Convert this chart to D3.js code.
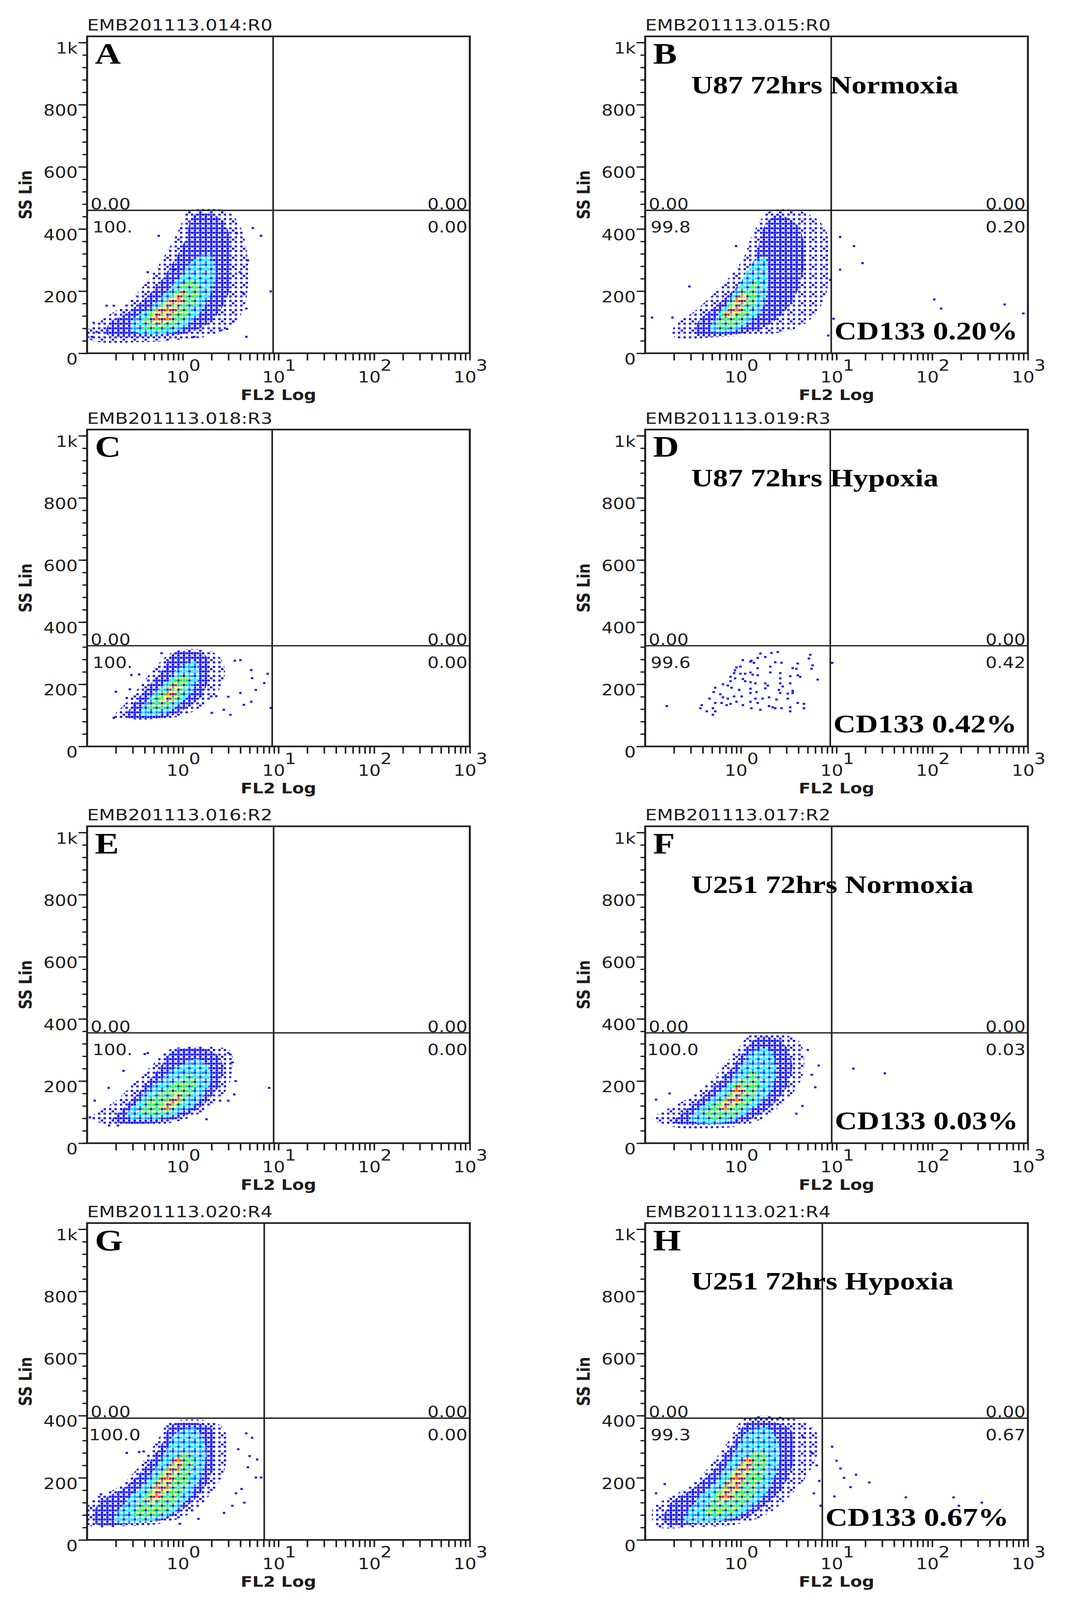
<!DOCTYPE html>
<html>
<head>
<meta charset="utf-8">
<script src="https://cdn.jsdelivr.net/npm/d3@7"></script>
<style>
html, body { margin: 0; width: 100%; height: 100%; overflow: hidden; background: #fff; }
#fig { display: block; width: 100vw; height: 100vh; }
</style>
</head>
<body>
<svg id="fig" viewBox="0 0 2727 4928" preserveAspectRatio="none"></svg>
<script>
// ---- panel text ----
var panelLetters = ["A", "B", "C", "D", "E", "F", "G", "H"];
var fileNames = ["EMB201113.014:R0", "EMB201113.015:R0", "EMB201113.018:R3", "EMB201113.019:R3",
                 "EMB201113.016:R2", "EMB201113.017:R2", "EMB201113.020:R4", "EMB201113.021:R4"];
var conditions = ["", "U87 72hrs Normoxia", "", "U87 72hrs Hypoxia",
                  "", "U251 72hrs Normoxia", "", "U251 72hrs Hypoxia"];
var cd133Labels = ["", "CD133 0.20%", "", "CD133 0.42%", "", "CD133 0.03%", "", "CD133 0.67%"];

// quadrant gates (SS Lin, FL2 Log) and quadrant percentages
var gateSS = [460, 460, 324, 324, 355, 355, 392, 392];
var gateFL2 = [8.8, 8.8, 8.6, 8.6, 8.9, 8.9, 7.1, 7.1];
var quadUL = ["0.00", "0.00", "0.00", "0.00", "0.00", "0.00", "0.00", "0.00"];
var quadUR = ["0.00", "0.00", "0.00", "0.00", "0.00", "0.00", "0.00", "0.00"];
var quadLL = ["100.", "99.8", "100.", "99.6", "100.", "100.0", "100.0", "99.3"];
var quadLR = ["0.00", "0.20", "0.00", "0.42", "0.00", "0.03", "0.00", "0.67"];

// ---- axes ----
var yTickValues = [0, 200, 400, 600, 800, 1000];
var yTickLabels = ["0", "200", "400", "600", "800", "1k"];
var xDecades = [0, 1, 2, 3];

// ---- density contours [FL2, SS], outer -> core ----
var contoursA = [
  [[.108,44],[.378,36],[.97,44],[2.12,61],[3.95,119],[4.81,219],[4.62,336],[3.95,411],[2.89,457],[1.13,457],[.93,403],[.71,336],[.48,253],[.277,169],[.148,111],[.104,78]],
  [[.16,61],[.41,53],[.97,61],[1.81,94],[2.89,178],[3.25,303],[2.89,403],[2.12,445],[1.32,445],[1.05,361],[.77,286],[.52,211],[.28,136],[.17,94]],
  [[.3,74],[.6,60],[1.13,90],[1.85,175],[2.2,265],[1.85,320],[1.3,300],[.8,222],[.46,146],[.3,108]],
  [[.38,82],[.71,80],[1.22,140],[1.48,222],[1.15,236],[.7,172],[.42,120]],
  [[.46,98],[.66,98],[.98,165],[1.0,198],[.77,182],[.5,130]]
];
var contoursB = [
  [[.2,53],[.64,53],[2.02,61],[4.61,94],[7.55,178],[8.2,303],[7.55,403],[4.61,453],[2.02,457],[1.34,386],[1.05,303],[.64,219],[.33,136],[.2,86]],
  [[.33,61],[.89,61],[2.02,94],[3.6,178],[4.61,303],[3.91,411],[2.38,445],[1.72,403],[1.46,320],[1.05,236],[.59,161],[.36,102]],
  [[.48,74],[.9,74],[1.6,132],[1.92,240],[1.76,310],[1.32,292],[.94,214],[.57,120]],
  [[.56,82],[.9,90],[1.36,158],[1.5,232],[1.14,214],[.67,136]],
  [[.67,114],[.9,120],[1.16,184],[1.01,190],[.73,138]]
];
var contoursC = [
  [[.19,92],[.377,88],[.775,92],[1.28,112],[1.84,145],[2.63,204],[2.63,271],[1.96,306],[.83,306],[.54,263],[.38,204],[.25,137],[.197,106]],
  [[.26,94],[.67,94],[1.07,122],[1.59,165],[1.84,224],[1.71,294],[.83,302],[.63,251],[.44,193],[.3,134]],
  [[.36,102],[.64,106],[1.13,162],[1.48,228],[1.3,276],[.88,248],[.62,196],[.42,146]],
  [[.45,122],[.68,126],[1.02,175],[1.18,224],[.89,224],[.62,180],[.47,146]],
  [[.58,142],[.73,147],[.95,192],[.83,200],[.66,166]]
];
var contoursD = [];
var contoursE = [
  [[.107,85],[.165,57],[.3,57],[.62,61],[1.15,81],[1.84,113],[2.93,177],[3.26,237],[3.15,297],[2.2,309],[.72,301],[.5,257],[.3,189],[.2,137],[.124,97]],
  [[.184,73],[.52,65],[1.07,89],[1.71,129],[2.45,193],[2.54,265],[1.84,301],[.8,297],[.58,245],[.38,177],[.24,113]],
  [[.26,84],[.62,80],[1.13,110],[1.75,165],[1.95,228],[1.5,270],[.94,252],[.6,206],[.36,146]],
  [[.36,96],[.62,96],[1.05,135],[1.36,194],[1.2,222],[.82,192],[.5,154],[.39,124]],
  [[.6,110],[.78,114],[.98,156],[.9,164],[.7,138]]
];
var contoursF = [
  [[.12,80],[.2,52],[.45,48],[.95,55],[1.7,80],[2.8,130],[4.2,200],[4.6,270],[4.0,330],[2.6,350],[1.3,350],[.9,300],[.55,220],[.3,150],[.16,105]],
  [[.2,68],[.55,60],[1.1,70],[1.9,110],[3.0,180],[3.4,260],[2.6,330],[1.5,340],[1.05,290],[.7,220],[.4,150],[.25,100]],
  [[.3,74],[.7,68],[1.32,108],[2.05,170],[2.35,244],[1.92,304],[1.28,292],[.88,222],[.53,150],[.33,104]],
  [[.4,84],[.76,84],[1.22,128],[1.55,192],[1.42,234],[.98,202],[.63,146],[.43,108]],
  [[.6,110],[.86,120],[1.12,170],[1.0,188],[.74,150]]
];
var contoursG = [
  [[.103,49],[.27,45],[.62,54],[1.22,87],[1.94,147],[2.71,222],[2.82,343],[2.2,378],[.74,378],[.53,315],[.33,227],[.2,166],[.117,133],[.103,110]],
  [[.12,54],[.33,54],[.68,68],[1.12,110],[1.78,180],[2.2,287],[1.94,362],[.77,371],[.62,315],[.41,236],[.25,171],[.13,115]],
  [[.19,60],[.62,70],[1.05,122],[1.5,194],[1.76,286],[1.35,358],[.86,346],[.66,284],[.45,204],[.27,132]],
  [[.31,78],[.58,84],[.97,146],[1.26,228],[1.25,278],[.94,278],[.6,218],[.39,142]],
  [[.43,114],[.58,130],[.82,198],[.98,252],[.88,268],[.67,224],[.47,152]]
];
var contoursH = [
  [[.13,45],[.35,42],[.9,50],[1.8,80],[3.2,140],[5.2,220],[6.5,300],[5.8,360],[3.5,390],[1.1,390],[.75,320],[.45,230],[.28,170],[.16,130],[.12,100]],
  [[.16,55],[.45,55],[.95,65],[1.7,105],[2.8,175],[3.6,270],[3.2,360],[1.2,380],[.85,315],[.55,235],[.33,170],[.18,115]],
  [[.26,62],[.85,72],[1.52,118],[2.15,190],[2.55,288],[1.92,358],[1.18,348],[.88,286],[.6,206],[.36,134]],
  [[.43,82],[.8,88],[1.37,150],[1.8,232],[1.78,284],[1.28,280],[.83,222],[.53,146]],
  [[.58,116],[.8,132],[1.12,200],[1.33,252],[1.2,270],[.88,228],[.64,156]]
];

// ---- single events outside the dense cores [FL2, SS] ----
var eventsA = [[.56,378],[.43,261],[.19,153],[.117,98],[.112,53],[4.62,53],[6.58,378],[5.4,403],[4.8,299],[3.95,261],[4.28,194],[4.62,144],[2.47,73],[8.3,199],[2.9,78],
  [.16,153],[.126,69],[1.32,53],[3.38,102],[3.66,386],[.83,269]];
var eventsB = [[10.9,374],[15.2,345],[18.7,290],[10.9,269],[105,173],[124,144],[571,157],[897,128],[9.3,111],[8.6,236],[.118,115],[.193,115],[.29,215],[.89,345],[8.2,57]];
var eventsC = [[5.2,246],[5.3,220],[5.8,182],[7.1,204],[7.7,234],[4.0,172],[4.35,134],[5.2,144],[3.15,102],[2.68,118],[2.01,108],[4.0,278],[3.5,276],[2.24,162],[2.99,160],[.2,176],[.26,156],[.28,184],[.29,230],[.35,232],[.6,300],[8.3,124],[.19,92]];
var eventsD = [[1.6,299],[2.09,301],[2.43,304],[5.31,295],[5.15,283],[1.8,288],[1.5,285],[1.05,278],[1.26,273],[1.37,269],[1.29,276],
  [1.5,252],[2.03,257],[2.29,271],[2.66,269],[3.93,267],[3.48,252],[3.81,250],[5.63,261],[5.47,250],[.99,257],[.9,254],[.87,245],
  [.85,236],[.99,234],[1.11,234],[1.26,238],[1.33,231],[1.5,229],[2.03,238],[2.58,236],[2.58,219],[3.28,226],[3.93,229],[4.17,224],
  [6.35,215],[.78,224],[.87,219],[1.05,217],[1.11,210],[1.26,207],[1.42,203],[.78,210],[.65,200],[.73,196],[.8,189],[.96,182],
  [1.26,186],[1.46,175],[1.8,187],[1.8,203],[1.91,196],[2.58,203],[3.28,203],[2.74,193],[2.5,182],[3.09,170],[3.48,172],[3.48,179],
  [.61,168],[.54,189],[.52,175],[.65,158],[.73,154],[.85,161],[1.02,161],[1.26,172],[1.42,154],[1.69,154],[1.97,158],[2.36,151],
  [2.58,172],[3.09,154],[.47,154],[.54,140],[.63,140],[.71,133],[.78,137],[.9,144],[1.05,133],[1.26,144],[1.5,140],[1.97,130],
  [2.29,123],[2.66,123],[3.28,126],[3.93,140],[4.56,137],[4.56,123],[.168,130],[.39,133],[.378,123],[.44,113],[.51,123],[.54,113],
  [.51,102],[1.29,123],[1.6,118],[3.28,113],[2.15,126],[9.0,269]];
var eventsE = [[8.0,178],[3.57,200],[3.45,157],[2.45,137],[2.99,137],[1.77,77],[.24,233],[.168,178],[.12,137],[.4,287],[.43,290],[.17,57],[.21,57],[.107,83],[3.3,260],[3.0,290]];
var eventsF = [[15,240],[32,225],[5.5,220],[6.0,180],[5.0,300],[.13,140],[.18,160],[4.4,120],[3.8,95],[6.5,250]];
var eventsG = [[6.0,259],[4.79,234],[5.8,201],[6.6,201],[4.12,164],[5.3,329],[4.6,343],[3.8,292],[2.7,87],[1.46,68],[.93,52],[.26,280],[.39,285],[.14,147],[3.3,110],[3.6,150],[4.4,120],[5.0,270],[.35,283]];
var eventsH = [[9,300],[10,255],[11,230],[12,200],[14,170],[9.5,140],[16,210],[22,185],[53,137],[167,137],[190,110],[330,120],
  [4.5,330],[5.5,280],[6.2,240],[6.6,190],[5.8,150],[6.8,110],[.13,150],[.16,180]];

var allContours = [contoursA, contoursB, contoursC, contoursD, contoursE, contoursF, contoursG, contoursH];
var allEvents = [eventsA, eventsB, eventsC, eventsD, eventsE, eventsF, eventsG, eventsH];

// ---- layout ----
var W = 980, H = 976;
var colX = [223, 1652];
var rowY = [112, 1323, 2545, 3767];
var sans = "'DejaVu Sans', Verdana, sans-serif";
var serif = "'Liberation Serif', 'Times New Roman', serif";
var ink = "#1c1c1c";

var svg = d3.select("#fig");
svg.append("rect").attr("width", 2727).attr("height", 4928).attr("fill", "#fff");

var x = d3.scaleLog().domain([0.1, 1000]).range([0, W]);
var y = d3.scaleLinear().domain([0, 1020]).range([H, 0]);

// dot textures for density levels (ordered dither on a 7px grid)
var bayer = [[0, 8, 2, 10], [12, 4, 14, 6], [3, 11, 1, 9], [15, 7, 13, 5]];
var levelFill = [
  function(b) { return b < 5 ? "#0000ff" : null; },
  function(b) { return b < 12 ? "#0000ff" : null; },
  function(b) { return b < 10 ? (b % 3 === 2 ? "#0098ff" : "#00ffff") : null; },
  function(b) { return b < 10 ? (b < 4 ? "#00ff00" : (b < 7 ? "#90ff00" : "#00ffb0")) : null; },
  function(b) { return b < 9 ? (b < 3 ? "#ff0000" : (b < 6 ? "#ffff00" : "#ff7000")) : null; }
];
var defs = svg.append("defs");
levelFill.forEach(function(fn, k) {
  var pat = defs.append("pattern")
    .attr("id", "lvl" + k)
    .attr("patternUnits", "userSpaceOnUse")
    .attr("width", 28).attr("height", 28);
  bayer.forEach(function(row, j) {
    row.forEach(function(b, i) {
      var c = fn(b);
      if (c) pat.append("rect").attr("x", i * 7).attr("y", j * 7)
        .attr("width", 6).attr("height", 6).attr("fill", c);
    });
  });
});

var contourLine = d3.line()
  .x(function(d) { return x(d[0]); })
  .y(function(d) { return y(d[1]); })
  .curve(d3.curveCatmullRomClosed.alpha(0.5));

panelLetters.forEach(function(letter, i) {
  var g = svg.append("g")
    .attr("transform", "translate(" + colX[i % 2] + "," + rowY[Math.floor(i / 2)] + ")");

  defs.append("clipPath").attr("id", "clip" + i)
    .append("rect").attr("width", W).attr("height", H);

  var plot = g.append("g").attr("clip-path", "url(#clip" + i + ")");

  // density contours
  plot.selectAll("path.level")
    .data(allContours[i])
    .enter().append("path")
    .attr("class", "level")
    .attr("d", contourLine)
    .attr("fill", function(d, k) { return "url(#lvl" + k + ")"; });

  // single events
  plot.selectAll("rect.event")
    .data(allEvents[i])
    .enter().append("rect")
    .attr("class", "event")
    .attr("x", function(d) { return x(d[0]) - 3; })
    .attr("y", function(d) { return y(d[1]) - 3; })
    .attr("width", 6).attr("height", 6)
    .attr("fill", "#0000ff");

  // quadrant gate
  g.append("line")
    .attr("x1", x(gateFL2[i])).attr("x2", x(gateFL2[i]))
    .attr("y1", 0).attr("y2", H)
    .attr("stroke", ink).attr("stroke-width", 4);
  g.append("line")
    .attr("x1", 0).attr("x2", W)
    .attr("y1", y(gateSS[i])).attr("y2", y(gateSS[i]))
    .attr("stroke", ink).attr("stroke-width", 4);

  var gy = y(gateSS[i]);
  var quad = g.append("g").attr("font-family", sans).attr("font-size", 46).attr("fill", ink);
  quad.append("text").attr("x", 9).attr("y", gy - 3).text(quadUL[i]);
  quad.append("text").attr("x", W - 6).attr("y", gy - 3).attr("text-anchor", "end").text(quadUR[i]);
  quad.append("text").attr("x", quadLL[i].length > 4 ? 5 : 14).attr("y", gy + 68).text(quadLL[i]);
  quad.append("text").attr("x", W - 6).attr("y", gy + 68).attr("text-anchor", "end").text(quadLR[i]);

  // frame
  g.append("rect")
    .attr("width", W).attr("height", H)
    .attr("fill", "none").attr("stroke", ink).attr("stroke-width", 5);

  // y axis
  g.append("g")
    .call(d3.axisLeft(y).tickValues(d3.range(0, 1001, 40)).tickSize(12).tickFormat(""))
    .call(function(s) {
      s.select(".domain").remove();
      s.selectAll("line").attr("stroke", ink).attr("stroke-width", 4);
    });
  g.append("g")
    .call(d3.axisLeft(y).tickValues(yTickValues).tickSize(22)
      .tickFormat(function(d) { return yTickLabels[yTickValues.indexOf(d)]; }))
    .call(function(s) {
      s.select(".domain").remove();
      s.selectAll("line").attr("stroke", ink).attr("stroke-width", 4);
      s.selectAll("text")
        .attr("x", -24).attr("dy", "0.73em")
        .attr("font-family", sans).attr("font-size", 46).attr("fill", ink);
    });

  // x axis (log)
  var xTicks = [];
  [0.1, 1, 10, 100].forEach(function(base) {
    for (var k = 2; k <= 10; k++) xTicks.push(base * k);
  });
  g.append("g")
    .attr("transform", "translate(0," + H + ")")
    .call(d3.axisBottom(x).tickValues(xTicks).tickSize(22).tickFormat(""))
    .call(function(s) {
      s.select(".domain").remove();
      s.selectAll("line").attr("stroke", ink).attr("stroke-width", 4);
    });

  var xl = g.append("g").attr("font-family", sans).attr("font-size", 46).attr("fill", ink);
  xl.selectAll("text.base")
    .data(xDecades).enter().append("text")
    .attr("class", "base")
    .attr("x", function(e) { return x(Math.pow(10, e)) + 17; })
    .attr("y", H + 90)
    .attr("text-anchor", "end")
    .text("10");
  xl.selectAll("text.exp")
    .data(xDecades).enter().append("text")
    .attr("class", "exp")
    .attr("x", function(e) { return x(Math.pow(10, e)) + 16; })
    .attr("y", H + 54)
    .text(function(e) { return e; });

  // axis titles
  g.append("text")
    .attr("x", W / 2).attr("y", H + 144)
    .attr("text-anchor", "middle")
    .attr("font-family", sans).attr("font-weight", "bold").attr("font-size", 44).attr("fill", ink)
    .text("FL2 Log");
  g.append("text")
    .attr("transform", "translate(-142," + (H / 2) + ") rotate(-90)")
    .attr("text-anchor", "middle")
    .attr("font-family", sans).attr("font-weight", "bold").attr("font-size", 44).attr("fill", ink)
    .text("SS Lin");

  // file name
  g.append("text")
    .attr("x", 0).attr("y", -18)
    .attr("font-family", sans).attr("font-size", 48).attr("fill", ink)
    .text(fileNames[i]);

  // panel letter and annotations
  g.append("text")
    .attr("x", 20).attr("y", 84)
    .attr("font-family", serif).attr("font-weight", "bold").attr("font-size", 92).attr("fill", "#000")
    .text(letter);
  if (conditions[i]) {
    g.append("text")
      .attr("x", 118).attr("y", i < 4 ? 175 : 205)
      .attr("font-family", serif).attr("font-weight", "bold").attr("font-size", 77).attr("fill", "#000")
      .text(conditions[i]);
  }
  if (cd133Labels[i]) {
    g.append("text")
      .attr("x", x(gateFL2[i]) + 8).attr("y", H - 43)
      .attr("font-family", serif).attr("font-weight", "bold").attr("font-size", 79).attr("fill", "#000")
      .text(cd133Labels[i]);
  }
});
</script>
</body>
</html>
